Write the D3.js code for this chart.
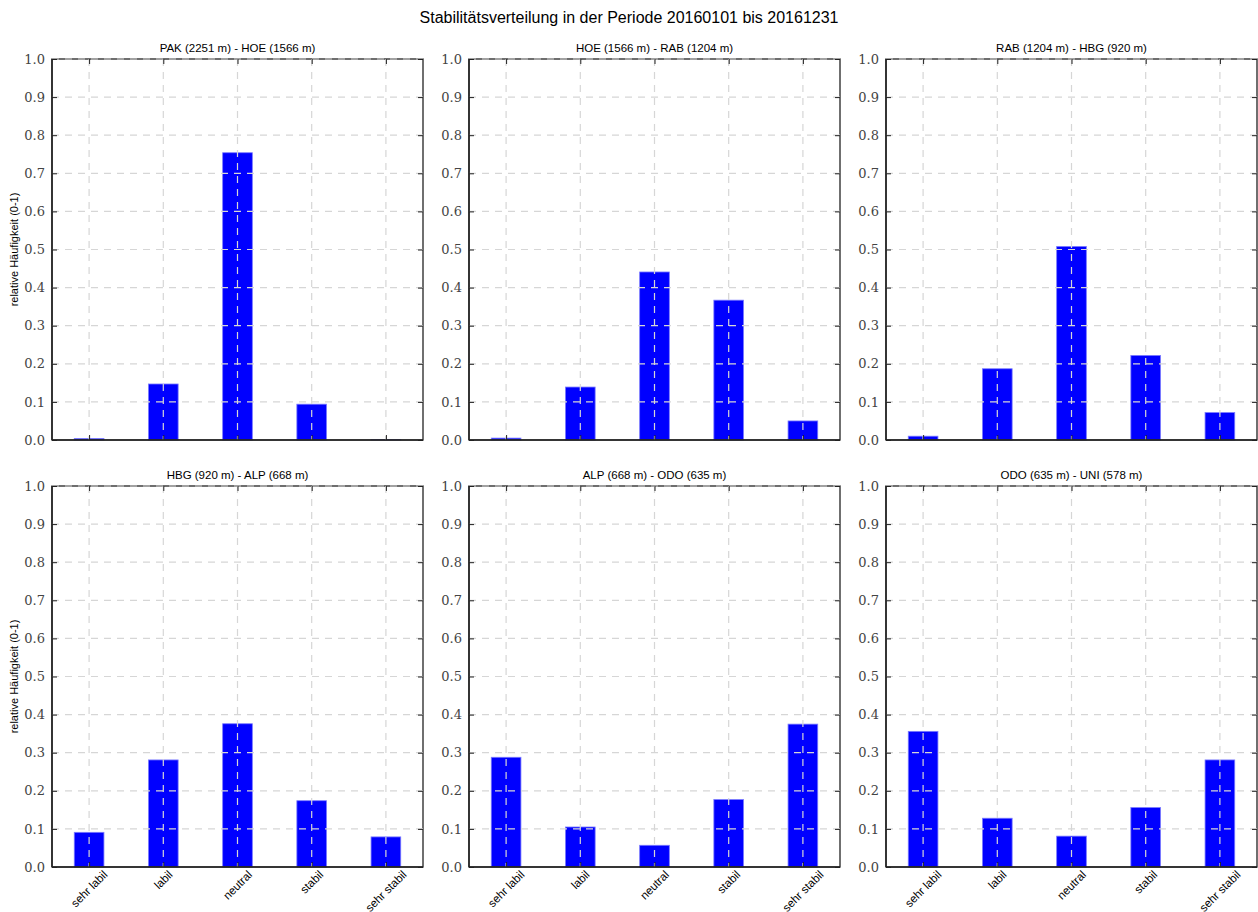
<!DOCTYPE html>
<html><head><meta charset="utf-8">
<script src="https://cdn.jsdelivr.net/npm/d3@7"></script>
<style>body{margin:0;background:#fff}svg{display:block}</style>
</head><body><svg id="c" width="1258" height="912"></svg>
<script>
const mainTitle = "Stabilitätsverteilung in der Periode 20160101 bis 20161231";
const categories = ["sehr labil", "labil", "neutral", "stabil", "sehr stabil"];
const panelTitles = [
  "PAK (2251 m) - HOE (1566 m)", "HOE (1566 m) - RAB (1204 m)", "RAB (1204 m) - HBG (920 m)",
  "HBG (920 m) - ALP (668 m)", "ALP (668 m) - ODO (635 m)", "ODO (635 m) - UNI (578 m)"
];
const valsPAK_HOE = [0.004, 0.147, 0.754, 0.094, 0.001];
const valsHOE_RAB = [0.005, 0.139, 0.441, 0.367, 0.050];
const valsRAB_HBG = [0.010, 0.187, 0.508, 0.222, 0.072];
const valsHBG_ALP = [0.091, 0.281, 0.376, 0.174, 0.079];
const valsALP_ODO = [0.288, 0.105, 0.057, 0.177, 0.375];
const valsODO_UNI = [0.356, 0.128, 0.081, 0.156, 0.281];
const yTicks = [0, 0.1, 0.2, 0.3, 0.4, 0.5, 0.6, 0.7, 0.8, 0.9, 1.0];
const yLabel = "relative Häufigkeit (0-1)";
const series = [valsPAK_HOE, valsHOE_RAB, valsRAB_HBG, valsHBG_ALP, valsALP_ODO, valsODO_UNI];

const svg = d3.select("#c");
const SANS = "'Liberation Sans', Arial, sans-serif";
const SERIF = "'DejaVu Serif', 'Liberation Serif', serif";
svg.append("text").attr("x", 629).attr("y", 23).attr("text-anchor", "middle")
  .attr("font-family", SANS).attr("font-size", 16).attr("fill", "#000").text(mainTitle);

const lefts = [52, 469, 886], tops = [59, 486];
const W = 371, H = 381;

series.forEach((vals, i) => {
  const col = i % 3, row = Math.floor(i / 3);
  const g = svg.append("g").attr("transform", `translate(${lefts[col]},${tops[row]})`);
  const x = d3.scaleLinear().domain([-0.5, 4.5]).range([0, W]);
  const y = d3.scaleLinear().domain([0, 1]).range([H, 0]);
  // bars
  g.selectAll("rect.bar").data(vals).join("rect")
    .attr("x", (d, j) => x(j - 0.2)).attr("width", x(0.4) - x(0))
    .attr("y", d => y(d)).attr("height", d => y(0) - y(d))
    .attr("fill", "#0000ff").attr("stroke", "#7a7aff").attr("stroke-width", 0.8);
  // spines
  g.append("rect").attr("x", 0).attr("y", 0).attr("width", W).attr("height", H)
    .attr("fill", "none").attr("stroke", "#222").attr("stroke-width", 1.3);
  // grid
  g.selectAll("line.gy").data(yTicks.filter(t => t > 0)).join("line")
    .attr("x1", 0).attr("x2", W).attr("y1", d => y(d)).attr("y2", d => y(d))
    .attr("stroke", "#d6d6d6").attr("stroke-width", 1.2).attr("stroke-dasharray", "7,6");
  g.selectAll("line.gx").data(categories).join("line")
    .attr("x1", (d, j) => x(j)).attr("x2", (d, j) => x(j)).attr("y1", 0).attr("y2", H)
    .attr("stroke", "#d6d6d6").attr("stroke-width", 1.2).attr("stroke-dasharray", "7,6");
  // axes (ticks inward)
  const yl = g.append("g").call(d3.axisLeft(y).tickValues(yTicks).tickFormat(d3.format(".1f")).tickSizeInner(-5).tickSizeOuter(0).tickPadding(7));
  const yr = g.append("g").attr("transform", `translate(${W},0)`).call(d3.axisRight(y).tickValues(yTicks).tickSizeInner(-5).tickSizeOuter(0).tickFormat(""));
  const xb = g.append("g").attr("transform", `translate(0,${H})`).call(d3.axisBottom(x).tickValues([0,1,2,3,4]).tickSizeInner(-5).tickSizeOuter(0).tickFormat(""));
  const xt = g.append("g").call(d3.axisTop(x).tickValues([0,1,2,3,4]).tickSizeInner(-5).tickSizeOuter(0).tickFormat(""));
  [yl, yr, xb, xt].forEach(a => {
    a.select(".domain").remove();
    a.selectAll(".tick line").attr("stroke", "#222");
  });
  yl.selectAll("text").attr("font-family", SERIF).attr("font-size", 13).attr("fill", "#444");
  // bottom and left spines on top of grid
  g.append("line").attr("x1", 0).attr("x2", W).attr("y1", H).attr("y2", H).attr("stroke", "#222").attr("stroke-width", 1.5);
  g.append("line").attr("x1", 0).attr("x2", 0).attr("y1", 0).attr("y2", H).attr("stroke", "#222").attr("stroke-width", 1.5);
  // panel title
  g.append("text").attr("x", W / 2).attr("y", -7).attr("text-anchor", "middle")
    .attr("font-family", SANS).attr("font-size", 11.5).attr("fill", "#000").text(panelTitles[i]);
  // y label
  if (col === 0) {
    g.append("text").attr("transform", `translate(-34,${H / 2}) rotate(-90)`).attr("text-anchor", "middle")
      .attr("font-family", SANS).attr("font-size", 11).attr("fill", "#000").text(yLabel);
  }
  // x tick labels bottom row
  if (row === 1) {
    categories.forEach((c, j) => {
      const t = g.append("text").attr("font-family", SANS).attr("font-size", 11.5).attr("fill", "#000")
        .attr("text-anchor", "middle").attr("dominant-baseline", "central").text(c);
      const w = t.node().getComputedTextLength(), h = 10;
      const cy = H + 2 + (w + h) / (2 * Math.SQRT2);
      t.attr("transform", `translate(${x(j)},${cy}) rotate(-45)`);
    });
  }
});
</script></body></html>
